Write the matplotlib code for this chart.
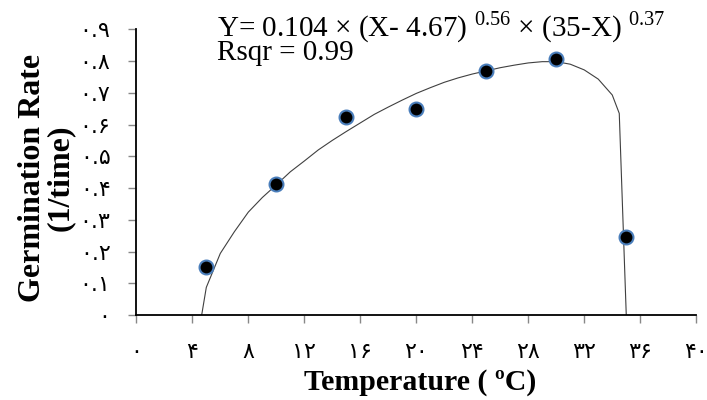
import matplotlib
matplotlib.use('Agg')
import matplotlib.pyplot as plt

# observed germination rates
temp = [5, 10, 15, 20, 25, 30, 35]
rate = [0.152, 0.414, 0.624, 0.649, 0.769, 0.806, 0.245]

# fitted model line
fit_x = [4.67, 5, 6, 7, 8, 9, 10, 11, 12, 13, 14, 15, 16, 17, 18, 19, 20,
         21, 22, 23, 24, 25, 26, 27, 28, 29, 30, 31, 32, 33, 34, 34.5, 35]
fit_y = [0.0, 0.087, 0.194, 0.262, 0.324, 0.37, 0.41, 0.451, 0.485, 0.52,
         0.55, 0.578, 0.605, 0.632, 0.655, 0.677, 0.698, 0.716, 0.733, 0.747,
         0.759, 0.769, 0.779, 0.787, 0.794, 0.798, 0.798, 0.79, 0.772, 0.743,
         0.693, 0.635, 0.0]

x_ticks = [0, 4, 8, 12, 16, 20, 24, 28, 32, 36, 40]
x_tick_labels = ['۰', '۴', '۸', '۱۲', '۱۶', '۲۰', '۲۴', '۲۸', '۳۲', '۳۶', '۴۰']
y_ticks = [0, 0.1, 0.2, 0.3, 0.4, 0.5, 0.6, 0.7, 0.8, 0.9]
y_tick_labels = ['۰', '۰.۱', '۰.۲', '۰.۳', '۰.۴', '۰.۵', '۰.۶', '۰.۷', '۰.۸', '۰.۹']

plt.rcParams['mathtext.fontset'] = 'custom'
plt.rcParams['mathtext.rm'] = 'Liberation Serif'

fig = plt.figure(figsize=(7.07, 4.0), dpi=100)
ax = fig.add_axes([0.1928, 0.2125, 0.792, 0.7143])

ax.plot(fit_x, fit_y, color='#404040', lw=0.8)
ax.plot(temp, rate, 'o', color='black', markersize=10,
        markeredgecolor='#4a7ebb', markeredgewidth=1.5)

ax.set_xlim(0, 40)
ax.set_ylim(0, 0.9)
ax.set_xticks(x_ticks)
ax.set_xticklabels(x_tick_labels, family='DejaVu Sans', fontsize=16)
ax.set_yticks(y_ticks)
ax.set_yticklabels(y_tick_labels, family='DejaVu Sans', fontsize=16)

for s in ['top', 'right']:
    ax.spines[s].set_visible(False)
for s in ['left', 'bottom']:
    ax.spines[s].set_linewidth(1.3)
ax.tick_params(axis='x', length=5.5, width=1, color='#888888', pad=14)
ax.tick_params(axis='y', length=5.5, width=1, color='#888888', pad=13)

fig.text(0.594, 0.026, 'Temperature ( ºC)', family='Liberation Serif',
         fontweight='bold', fontsize=21.5, ha='center', va='baseline')
fig.text(0.066, 0.556, 'Germination Rate\n(1/time)', family='Liberation Serif',
         fontweight='bold', fontsize=23, rotation=90, ha='center', va='center',
         multialignment='center', linespacing=0.95)

# fitted equation and goodness of fit
fig.text(0.307, 0.8505,
         'Y= 0.104 × (X- 4.67) $^{0.56}$ × (35-X) $^{0.37}$\nRsqr = 0.99',
         family='Liberation Serif', fontsize=21, va='baseline',
         linespacing=0.75)

plt.savefig('out.png', dpi=100)
